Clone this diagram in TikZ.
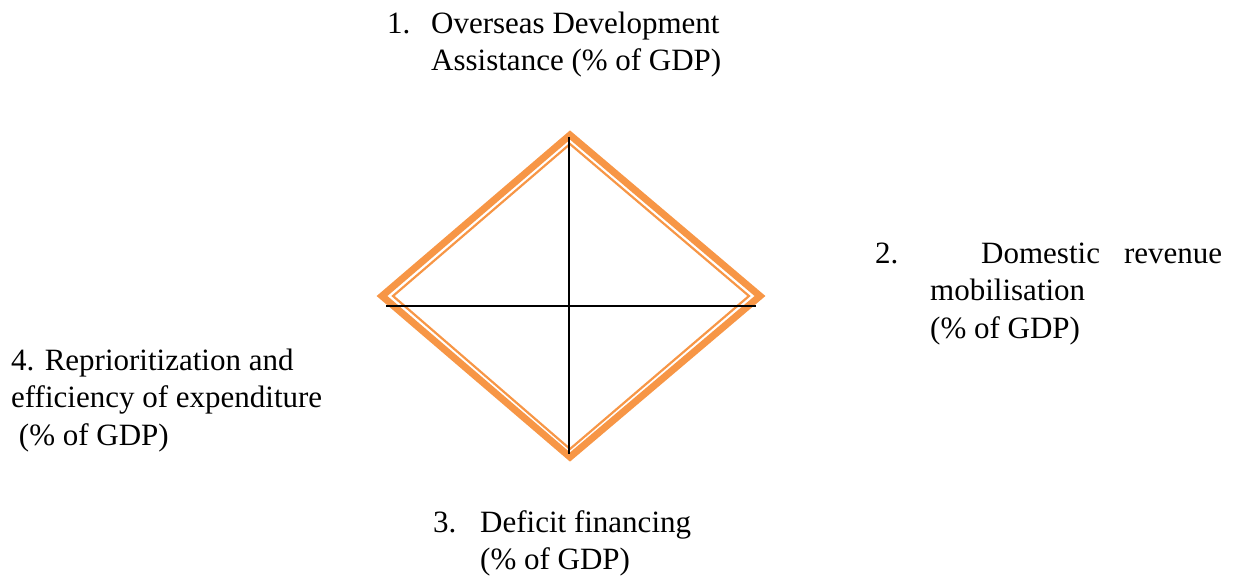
\documentclass[tikz,border=0pt]{standalone}
\usepackage{fontspec}
\setmainfont{Liberation Serif}
\definecolor{accent}{HTML}{F79646}

\begin{document}
\begin{tikzpicture}[x=1pt,y=-1pt,
  txt/.style={font=\fontsize{31}{37.5}\selectfont, inner sep=0pt, anchor=base west}]

  \useasboundingbox (0,0) rectangle (1235,581);

  % Vertices
  \coordinate (T) at (570,135);
  \coordinate (R) at (760,296);
  \coordinate (B) at (570,457);
  \coordinate (L) at (382,296);

  % Inner vertices
  \coordinate (Ti) at (570,144);
  \coordinate (Ri) at (749,296);
  \coordinate (Bi) at (570,449);
  \coordinate (Li) at (393,296);

  % Diamond (thick outer, thin inner)
  \draw[accent, line width=7pt, miter limit=10] (T) -- (R) -- (B) -- (L) -- cycle;
  \draw[accent, line width=2.2pt, miter limit=10] (Ti) -- (Ri) -- (Bi) -- (Li) -- cycle;

  % Axes
  \coordinate (N) at (569,137);
  \coordinate (S) at (569,454);
  \coordinate (W) at (386,306);
  \coordinate (E) at (756,306);
  \draw[line width=1.5pt] (N) -- (S);
  \draw[line width=1.5pt] (W) -- (E);

  % Labels
  \node[txt] (oda) at (387,33) {\begin{tabular}[t]{@{}l@{}l@{}}
    \makebox[44pt][l]{1.}&Overseas Development\\
    &Assistance (\% of GDP)\end{tabular}};
  \node[txt] (drm) at (875,263) {\begin{tabular}[t]{@{}l@{}l@{}}
    \makebox[55pt][l]{2.}&\makebox[292pt][l]{\hspace*{51pt}Domestic\hfill revenue}\\
    &mobilisation\\
    &(\% of GDP)\end{tabular}};
  \node[txt] (def) at (433,532) {\begin{tabular}[t]{@{}l@{}l@{}}
    \makebox[47pt][l]{3.}&Deficit financing\\
    &(\% of GDP)\end{tabular}};
  \node[txt] (exp) at (11,370) {\begin{tabular}[t]{@{}l@{}}
    4. Reprioritization and\\
    efficiency of expenditure\\
    \ (\% of GDP)\end{tabular}};

\end{tikzpicture}
\end{document}
